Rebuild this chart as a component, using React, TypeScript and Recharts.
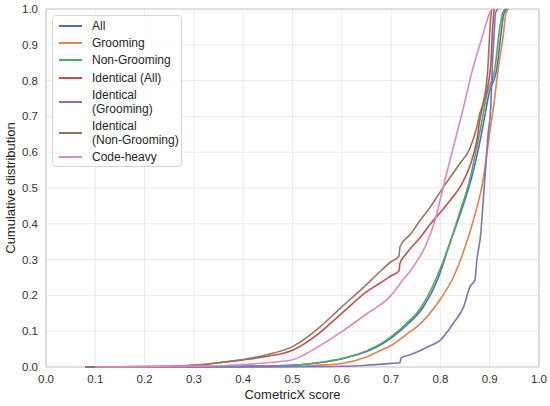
import React from "react";
import {
  LineChart,
  Line,
  XAxis,
  YAxis,
  CartesianGrid,
  Legend,
  ReferenceLine,
} from "recharts";

// ECDF points, [score, cumulative share]
const allPoints = [
  [0.08, 0], [0.2, 0.0005], [0.3, 0.001], [0.4, 0.002], [0.5, 0.005],
  [0.554, 0.012], [0.604, 0.024], [0.654, 0.045], [0.684, 0.066], [0.704, 0.085],
  [0.734, 0.12], [0.764, 0.165], [0.794, 0.243], [0.819, 0.345], [0.842, 0.435],
  [0.862, 0.522], [0.878, 0.615], [0.891, 0.708], [0.898, 0.76], [0.915, 0.839],
  [0.923, 0.932], [0.929, 0.988], [0.935, 1.0],
];
const groomingPoints = [
  [0.1, 0], [0.3, 0.0005], [0.45, 0.001], [0.5, 0.002], [0.55, 0.005],
  [0.6, 0.01], [0.65, 0.028], [0.68, 0.047], [0.7, 0.06], [0.73, 0.09],
  [0.76, 0.122], [0.8, 0.19], [0.826, 0.25], [0.845, 0.315], [0.87, 0.425],
  [0.885, 0.51], [0.9, 0.654], [0.909, 0.74], [0.917, 0.83], [0.928, 0.932],
  [0.933, 0.988], [0.938, 1.0],
];
const nonGroomingPoints = [
  [0.08, 0], [0.2, 0.0005], [0.3, 0.001], [0.4, 0.002], [0.5, 0.005],
  [0.55, 0.012], [0.6, 0.024], [0.65, 0.045], [0.68, 0.066], [0.7, 0.085],
  [0.73, 0.12], [0.76, 0.165], [0.79, 0.243], [0.815, 0.33], [0.84, 0.435],
  [0.858, 0.515], [0.874, 0.615], [0.887, 0.708], [0.894, 0.76], [0.911, 0.839],
  [0.919, 0.932], [0.926, 0.988], [0.932, 1.0],
];
const identicalAllPoints = [
  [0.08, 0], [0.2, 0.001], [0.3, 0.005], [0.35, 0.012], [0.4, 0.02],
  [0.45, 0.03], [0.5, 0.047], [0.55, 0.09], [0.6, 0.15], [0.65, 0.21],
  [0.677, 0.234], [0.7, 0.255], [0.716, 0.268], [0.718, 0.29], [0.73, 0.315],
  [0.759, 0.362], [0.78, 0.4], [0.8, 0.432], [0.82, 0.466], [0.843, 0.51],
  [0.863, 0.575], [0.874, 0.634], [0.88, 0.69], [0.888, 0.74], [0.902, 0.84],
  [0.906, 0.95], [0.909, 1.0],
];
const identicalGroomingPoints = [
  [0.15, 0], [0.5, 0.0005], [0.6, 0.002], [0.65, 0.005], [0.7, 0.01],
  [0.718, 0.012], [0.72, 0.025], [0.74, 0.035], [0.76, 0.047], [0.78, 0.06],
  [0.8, 0.075], [0.815, 0.1], [0.826, 0.122], [0.847, 0.168], [0.86, 0.224],
  [0.87, 0.243], [0.874, 0.299], [0.882, 0.374], [0.887, 0.466], [0.892, 0.56],
  [0.897, 0.654], [0.902, 0.72], [0.905, 0.83], [0.909, 0.932], [0.912, 0.99],
  [0.917, 1.0],
];
const identicalNonGroomingPoints = [
  [0.08, 0], [0.2, 0.001], [0.3, 0.005], [0.35, 0.012], [0.4, 0.021],
  [0.45, 0.035], [0.5, 0.057], [0.55, 0.105], [0.6, 0.168], [0.65, 0.23],
  [0.677, 0.266], [0.7, 0.294], [0.716, 0.31], [0.718, 0.336], [0.74, 0.372],
  [0.759, 0.41], [0.78, 0.448], [0.8, 0.49], [0.82, 0.53], [0.84, 0.569],
  [0.86, 0.611], [0.874, 0.671], [0.88, 0.708], [0.887, 0.74], [0.896, 0.83],
  [0.9, 0.932], [0.903, 0.988], [0.905, 1.0],
];
const codeHeavyPoints = [
  [0.1, 0], [0.3, 0.002], [0.4, 0.007], [0.45, 0.012], [0.5, 0.02],
  [0.55, 0.055], [0.6, 0.099], [0.65, 0.148], [0.7, 0.2], [0.72, 0.236],
  [0.745, 0.28], [0.772, 0.345], [0.789, 0.41], [0.806, 0.504], [0.823, 0.597],
  [0.845, 0.715], [0.865, 0.83], [0.88, 0.9], [0.894, 0.965], [0.9, 0.99],
  [0.907, 1.0],
];

const SERIES = [
  { name: "All", lines: ["All"], points: allPoints, color: "#4c72b0" },
  { name: "Grooming", lines: ["Grooming"], points: groomingPoints, color: "#dd8452" },
  { name: "Non-Grooming", lines: ["Non-Grooming"], points: nonGroomingPoints, color: "#55a868" },
  { name: "Identical (All)", lines: ["Identical (All)"], points: identicalAllPoints, color: "#c44e52" },
  { name: "Identical (Grooming)", lines: ["Identical", "(Grooming)"], points: identicalGroomingPoints, color: "#8172b3" },
  { name: "Identical (Non-Grooming)", lines: ["Identical", "(Non-Grooming)"], points: identicalNonGroomingPoints, color: "#937860" },
  { name: "Code-heavy", lines: ["Code-heavy"], points: codeHeavyPoints, color: "#da8bc3" },
];

const TICKS = [0, 0.1, 0.2, 0.3, 0.4, 0.5, 0.6, 0.7, 0.8, 0.9, 1.0];

const FONT = '"Liberation Sans", Arial, sans-serif';

const CustomLegend = () => (
  <div
    style={{
      width: 130,
      boxSizing: "border-box",
      padding: "1px 6px",
      border: "1px solid #d6d6d6",
      borderRadius: 4,
      background: "rgba(255,255,255,0.85)",
      fontFamily: FONT,
      fontSize: 12,
      color: "#262626",
      whiteSpace: "nowrap",
    }}
  >
    {SERIES.map((s) => (
      <div
        key={s.name}
        style={{
          display: "flex",
          alignItems: "center",
          height: s.lines.length > 1 ? 31 : 17.3,
        }}
      >
        <span
          style={{
            display: "inline-block",
            flex: "0 0 23px",
            height: 2,
            background: s.color,
            marginRight: 10,
          }}
        />
        <div style={{ lineHeight: "14px" }}>
          {s.lines.map((l, i) => (
            <div key={i}>{l}</div>
          ))}
        </div>
      </div>
    ))}
  </div>
);

export default function App() {
  return (
    <div style={{ position: "absolute", left: 0, top: 0, background: "#fff" }}>
      <LineChart
        width={550}
        height={406}
        margin={{ top: 9, right: 11, left: 0, bottom: 0 }}
      >
        <CartesianGrid stroke="#ebebeb" strokeWidth={1} />
        <XAxis
          type="number"
          dataKey="x"
          domain={[0, 1]}
          ticks={TICKS}
          tickFormatter={(v: number) => v.toFixed(1)}
          axisLine={false}
          tickLine={false}
          height={39}
          tick={{ fill: "#333", fontSize: 11.5, fontFamily: FONT }}
          allowDuplicatedCategory={false}
          label={{
            value: "CometricX score",
            position: "insideBottom",
            offset: 7,
            style: { fill: "#262626", fontSize: 13, fontFamily: FONT },
          }}
        />
        <YAxis
          type="number"
          domain={[0, 1]}
          ticks={TICKS}
          tickFormatter={(v: number) => v.toFixed(1)}
          axisLine={false}
          tickLine={false}
          width={46}
          tick={{ fill: "#333", fontSize: 11.5, fontFamily: FONT }}
          label={{
            value: "Cumulative distribution",
            angle: -90,
            position: "insideLeft",
            offset: 10,
            style: { textAnchor: "middle", fill: "#262626", fontSize: 13, fontFamily: FONT },
          }}
        />
        <ReferenceLine x={0} stroke="#cccccc" strokeWidth={1.2} />
        <ReferenceLine x={1} stroke="#cccccc" strokeWidth={1.2} />
        <ReferenceLine y={0} stroke="#cccccc" strokeWidth={1.2} />
        <ReferenceLine y={1} stroke="#cccccc" strokeWidth={1.2} />
        {SERIES.map((s) => (
          <Line
            key={s.name}
            name={s.name}
            data={s.points.map(([x, y]) => ({ x, y }))}
            dataKey="y"
            type="monotone"
            stroke={s.color}
            strokeWidth={1.6}
            dot={false}
            isAnimationActive={false}
          />
        ))}
        <Legend
          layout="vertical"
          align="center"
          verticalAlign="middle"
          content={<CustomLegend />}
          wrapperStyle={{ left: 52, top: 15, width: 130, height: "auto" }}
        />
      </LineChart>
    </div>
  );
}
